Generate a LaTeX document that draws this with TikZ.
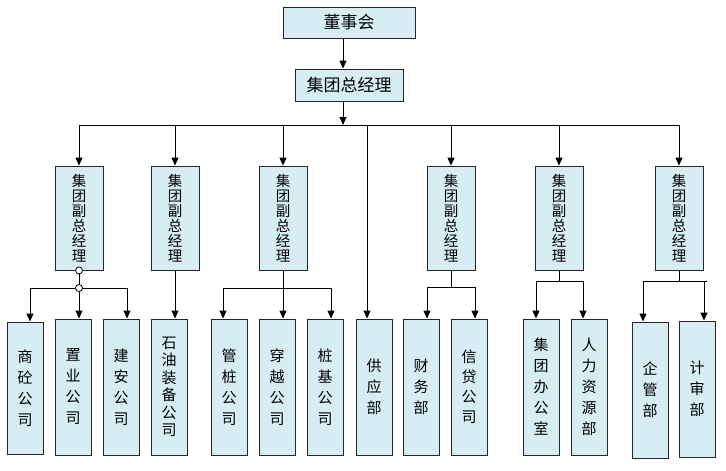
\documentclass[tikz,border=0pt]{standalone}
\usepackage{fontspec}
\newfontfamily\cjk{Noto Sans CJK SC}
\usetikzlibrary{arrows.meta}
\definecolor{boxfill}{RGB}{214,238,243}
\begin{document}
\begin{tikzpicture}[x=1pt,y=-1pt,
  box/.style={draw=black!85, line width=0.9pt, fill=boxfill, inner sep=0pt, align=center},
  topbox/.style={box, font=\cjk\fontsize{17}{17}\selectfont},
  vp/.style={box, minimum width=48pt, minimum height=104pt, font=\cjk\fontsize{14.5}{15}\selectfont},
  leaf/.style={box, minimum width=36pt, minimum height=136pt, font=\cjk\fontsize{15}{21}\selectfont},
  conn/.style={line width=1pt, draw=black},
  arr/.style={conn, -{Triangle[length=8pt,width=7pt]}},
  dot/.style={circle, draw=black, fill=white, line width=0.8pt, inner sep=0pt, minimum size=7pt}]
\useasboundingbox (0,0) rectangle (726,471);
% top
\node[topbox, minimum width=132pt, minimum height=31pt] (dsh) at (349,22.5) {董事会};
\node[topbox, minimum width=108pt, minimum height=32pt] (zjl) at (349,85) {集团总经理};
\coordinate (bus) at (343,125);
\coordinate (busL) at (79,125);
\coordinate (busR) at (679,125);
\coordinate (busS) at (367,125);
\draw[arr] ([xshift=-6pt]dsh.south) -- ([xshift=-6pt]zjl.north);
\draw[arr] ([xshift=-6pt]zjl.south) -- (bus);
\draw[conn] (busL) -- (busR);
% vice presidents
\node[vp] (vp1) at (79,218) {集\\团\\副\\总\\经\\理};
\node[vp] (vp2) at (175,218) {集\\团\\副\\总\\经\\理};
\node[vp] (vp3) at (283,218) {集\\团\\副\\总\\经\\理};
\node[vp] (vp4) at (451,218) {集\\团\\副\\总\\经\\理};
\node[vp] (vp5) at (559,218) {集\\团\\副\\总\\经\\理};
\node[vp] (vp6) at (679,218) {集\\团\\副\\总\\经\\理};
\foreach \v in {vp1,vp2,vp3,vp4,vp5,vp6}{
  \draw[arr] (\v |- bus) -- (\v.north);
}
% leaves
\node[leaf, minimum height=132pt] (l1) at (25,388) {商\\砼\\公\\司};
\node[leaf] (l2) at (73,387) {置\\业\\公\\司};
\node[leaf] (l3) at (121,387) {建\\安\\公\\司};
\node[leaf, font=\cjk\fontsize{15}{17.5}\selectfont] (l4) at (169,387) {石\\油\\装\\备\\公\\司};
\node[leaf] (l5) at (229,387) {管\\桩\\公\\司};
\node[leaf] (l6) at (277,387) {穿\\越\\公\\司};
\node[leaf] (l7) at (325,387) {桩\\基\\公\\司};
\node[leaf] (l8) at (374,387) {供\\应\\部};
\node[leaf] (l9) at (421,387) {财\\务\\部};
\node[leaf, font=\cjk\fontsize{15}{20}\selectfont] (l10) at (469,387) {信\\贷\\公\\司};
\node[leaf] (l11) at (541,387) {集\\团\\办\\公\\室};
\node[leaf] (l12) at (589,387) {人\\力\\资\\源\\部};
\node[leaf] (l13) at (650,390) {企\\管\\部};
\node[leaf] (l14) at (697,389) {计\\审\\部};
% VP1 branch
\coordinate (j1) at (79,288);
\draw[conn] (vp1.south) -- (j1);
\draw[arr] (j1) -| ([xshift=5pt]l1.north);
\draw[arr] (j1) -- ([xshift=6pt]l2.north);
\draw[arr] (j1) -| ([xshift=6pt]l3.north);
\node[dot] (d1) at (vp1.south) {};
\node[dot] (d2) at (j1) {};
% VP2 branch
\draw[arr] (vp2.south) -- ([xshift=6pt]l4.north);
% VP3 branch
\coordinate (j3) at (283,288);
\draw[conn] (vp3.south) -- (j3);
\draw[arr] (j3) -| ([xshift=-6pt]l5.north);
\draw[arr] (j3) -- ([xshift=6pt]l6.north);
\draw[arr] (j3) -| ([xshift=6pt]l7.north);
% supply
\draw[arr] (busS) -- ([xshift=-7pt]l8.north);
% VP4 branch
\coordinate (j4) at (451,287);
\draw[conn] (vp4.south) -- (j4);
\draw[arr] (j4) -| ([xshift=6pt]l9.north);
\draw[arr] (j4) -| ([xshift=6pt]l10.north);
% VP5 branch
\coordinate (j5) at (559,281);
\draw[conn] (vp5.south) -- (j5);
\draw[arr] (j5) -| ([xshift=-5pt]l11.north);
\draw[arr] (j5) -| ([xshift=-6pt]l12.north);
% VP6 branch
\coordinate (j6) at (679,281);
\coordinate (j6e) at (707,281);
\draw[conn] (vp6.south) -- (j6);
\draw[conn] (j6) -- (j6e);
\draw[arr] (j6) -| ([xshift=-7pt]l13.north);
\draw[arr] (j6) -| ([xshift=7pt]l14.north);
\end{tikzpicture}
\end{document}
